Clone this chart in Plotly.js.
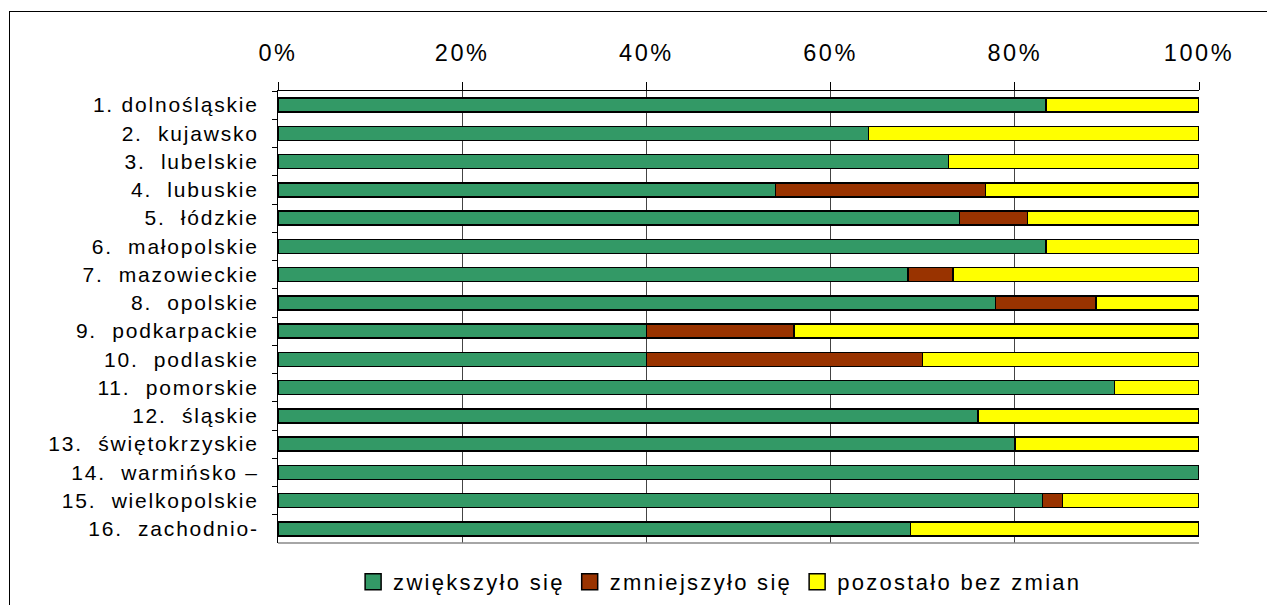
<!DOCTYPE html>
<html>
<head>
<meta charset="utf-8">
<script src="https://cdn.plot.ly/plotly-3.0.1.min.js"></script>
<style>
  html, body { margin: 0; padding: 0; background: #fff; }
  #wrap { position: relative; width: 1267px; height: 605px; overflow: hidden; }
  #chart { position: absolute; left: 0; top: 0; width: 1267px; height: 605px; }
  #frame { position: absolute; left: 9px; top: 11px; width: 1400px; height: 700px;
           border-left: 1px solid #000; border-top: 1px solid #000; pointer-events: none; }
  .xtick text { letter-spacing: 2.6px; }
  .ytick text { letter-spacing: 1.8px; }
  .legendtext { letter-spacing: 2.3px; }
</style>
</head>
<body>
<div id="wrap">
  <div id="chart"></div>
  <div id="frame"></div>
</div>
<script>
const categories = [
  "1. dolnośląskie",
  "2.\u00a0 kujawsko",
  "3.\u00a0 lubelskie",
  "4.\u00a0 lubuskie",
  "5.\u00a0 łódzkie",
  "6.\u00a0 małopolskie",
  "7.\u00a0 mazowieckie",
  "8.\u00a0 opolskie",
  "9.\u00a0 podkarpackie",
  "10.\u00a0 podlaskie",
  "11.\u00a0 pomorskie",
  "12.\u00a0 śląskie",
  "13.\u00a0 świętokrzyskie",
  "14.\u00a0 warmińsko –",
  "15.\u00a0 wielkopolskie",
  "16.\u00a0 zachodnio-"
];
const increased = [83.4, 64.1, 72.8, 54.0, 74.0, 83.4, 68.4, 77.9, 40.0, 40.0, 90.8, 76.0, 80.0, 100, 83.0, 68.7];
const decreased = [0, 0, 0, 22.8, 7.4, 0, 4.9, 10.9, 16.0, 30.0, 0, 0, 0, 0, 2.2, 0];
const unchanged = [16.6, 35.9, 27.2, 23.2, 18.6, 16.6, 26.7, 11.2, 44.0, 30.0, 9.2, 24.0, 20.0, 0, 14.8, 31.3];
const seriesNames = ["zwiększyło się", "zmniejszyło się", "pozostało bez zmian"];
const seriesColors = ["#339966", "#993300", "#FFFF00"];
const xTickVals = [0, 20, 40, 60, 80, 100];
const xTickText = ["0%", "20%", "40%", "60%", "80%", "100%"];

const values = [increased, decreased, unchanged];
const barTraces = values.map((v, i) => ({
  type: "bar",
  orientation: "h",
  name: seriesNames[i],
  y: categories,
  x: v,
  showlegend: false,
  marker: { color: seriesColors[i], line: { color: "#000", width: 1.5 } },
  hoverinfo: "x+y+name"
}));
// legend-only entries (no data) so the legend keys can be larger squares
const legendTraces = seriesNames.map((n, i) => ({
  type: "scatter",
  mode: "markers",
  name: n,
  x: [null],
  y: [null],
  showlegend: true,
  marker: { symbol: "square", size: 16, color: seriesColors[i], line: { color: "#000", width: 1.5 } },
  hoverinfo: "skip"
}));

const font = "Liberation Sans, Arial, sans-serif";
const layout = {
  width: 1267,
  height: 605,
  barmode: "stack",
  bargap: 0.5,
  paper_bgcolor: "rgba(0,0,0,0)",
  plot_bgcolor: "#fff",
  margin: { l: 278, r: 68, t: 91, b: 62, pad: 0 },
  font: { family: font, color: "#000" },
  xaxis: {
    side: "top",
    range: [0, 100],
    tickvals: xTickVals,
    ticktext: xTickText,
    tickfont: { family: font, size: 23.5, color: "#000" },
    showgrid: true,
    gridcolor: "#444",
    gridwidth: 1,
    zeroline: false,
    showline: true,
    linecolor: "#000",
    linewidth: 1,
    ticks: "outside",
    ticklen: 8,
    tickcolor: "#000",
    ticklabelstandoff: 12,
    fixedrange: true
  },
  yaxis: {
    type: "category",
    autorange: "reversed",
    tickfont: { family: font, size: 21, color: "#000" },
    showline: true,
    linecolor: "#000",
    linewidth: 1,
    ticks: "outside",
    tickson: "boundaries",
    ticklen: 5,
    tickcolor: "#000",
    showgrid: false,
    ticklabelstandoff: 14,
    fixedrange: true
  },
  shapes: [{
    type: "line", xref: "paper", yref: "paper",
    x0: 0, x1: 1, y0: 0, y1: 0,
    line: { color: "#888", width: 1.5 }
  }],
  showlegend: true,
  legend: {
    orientation: "h",
    xref: "container",
    yref: "container",
    x: 0.2787,
    xanchor: "left",
    y: 0.038,
    yanchor: "middle",
    font: { family: font, size: 22, color: "#000" },
    traceorder: "normal",
    itemclick: false,
    itemdoubleclick: false
  }
};

Plotly.newPlot("chart", barTraces.concat(legendTraces), layout, { displayModeBar: false, staticPlot: true });
</script>
</body>
</html>
